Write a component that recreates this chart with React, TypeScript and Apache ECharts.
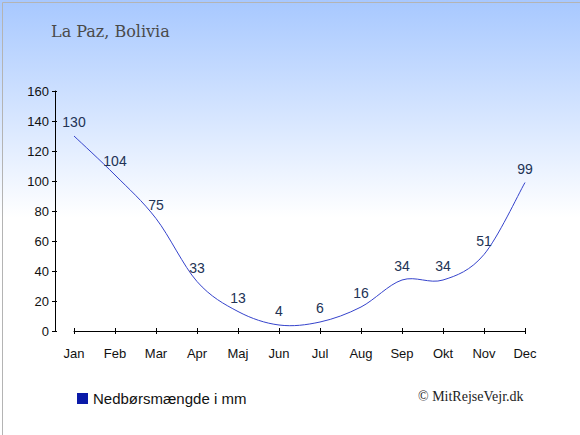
import React, { useEffect, useRef } from "react";
import * as echarts from "echarts";

const months = ["Jan", "Feb", "Mar", "Apr", "Maj", "Jun", "Jul", "Aug", "Sep", "Okt", "Nov", "Dec"];
const precipitation = [130, 104, 75, 33, 13, 4, 6, 16, 34, 34, 51, 99];
const yTicks = [0, 20, 40, 60, 80, 100, 120, 140, 160];

function catmullRomPath(pts: number[][]): string {
  if (pts.length === 0) return "";
  let d = `M${pts[0][0]},${pts[0][1]}`;
  for (let i = 0; i < pts.length - 1; i++) {
    const p0 = pts[i - 1] || pts[i];
    const p1 = pts[i];
    const p2 = pts[i + 1];
    const p3 = pts[i + 2] || p2;
    const t = 6;
    const c1x = p1[0] + (p2[0] - p0[0]) / t;
    const c1y = p1[1] + (p2[1] - p0[1]) / t;
    const c2x = p2[0] - (p3[0] - p1[0]) / t;
    const c2y = p2[1] - (p3[1] - p1[1]) / t;
    d += ` C${c1x},${c1y} ${c2x},${c2y} ${p2[0]},${p2[1]}`;
  }
  return d;
}

export default function App() {
  const ref = useRef<HTMLDivElement>(null);
  useEffect(() => {
    document.body.style.margin = "0";
    const chart = echarts.init(ref.current!, null, { renderer: "svg" });
    const axisCommon = { color: "#000" };
    chart.setOption({
      animation: false,
      backgroundColor: {
        type: "linear", x: 0, y: 0, x2: 0, y2: 1,
        colorStops: [
          { offset: 0, color: "#a7c8ff" },
          { offset: 0.5, color: "#ffffff" },
          { offset: 1, color: "#ffffff" },
        ],
      },
      title: {
        text: "La Paz, Bolivia",
        left: 46, top: 18,
        textStyle: { fontFamily: "DejaVu Serif", fontSize: 16, fontWeight: "normal", color: "#4a4a4a" },
      },
      grid: { left: 74, right: 55, top: 91, bottom: 104 },
      xAxis: [
        {
          type: "category", data: months, boundaryGap: false, position: "bottom", offset: 10,
          axisLine: { lineStyle: { color: "#000", width: 1 } },
          axisTick: { length: 3, lineStyle: axisCommon },
          axisLabel: { color: "#111", fontFamily: "Liberation Sans", fontSize: 13, margin: 6 },
          splitLine: { show: false },
        },
        {
          type: "category", data: months, boundaryGap: false, position: "bottom", offset: 10,
          axisLine: { show: false },
          axisTick: { length: 3, inside: true, lineStyle: axisCommon },
          axisLabel: { show: false },
        },
      ],
      yAxis: [
        {
          type: "value", min: yTicks[0], max: yTicks[yTicks.length - 1], interval: 20, offset: 19,
          axisLine: { show: true, lineStyle: { color: "#000", width: 1 } },
          axisTick: { show: true, length: 3, lineStyle: axisCommon },
          axisLabel: { color: "#111", fontFamily: "Liberation Sans", fontSize: 13, margin: 6 },
          splitLine: { show: false },
        },
        {
          type: "value", min: yTicks[0], max: yTicks[yTicks.length - 1], interval: 20, offset: 19, position: "left",
          axisLine: { show: false },
          axisTick: { show: true, length: 2, inside: true, lineStyle: axisCommon },
          axisLabel: { show: false },
          splitLine: { show: false },
        },
      ],
      legend: {
        left: 72, top: 386, itemWidth: 11, itemHeight: 11, icon: "rect", itemGap: 5,
        textStyle: { fontFamily: "Liberation Sans", fontSize: 15, color: "#111" },
        data: [{ name: "Nedbørsmængde i mm", itemStyle: { color: "#0a1aa8" } }],
      },
      graphic: [
        {
          type: "text", left: 418, top: 389,
          style: { text: "© MitRejseVejr.dk", fontFamily: "Liberation Serif", fontSize: 14, fill: "#222" },
        },
        {
          type: "rect", left: 0, top: 0,
          shape: { x: 0.5, y: 0.5, width: 579, height: 434 },
          style: { fill: "none", stroke: "#b4b4b4", lineWidth: 1 },
        },
      ],
      series: [
        {
          name: "Nedbørsmængde i mm",
          type: "custom",
          data: precipitation,
          color: "#0a1aa8",
          renderItem: (params: any, api: any) => {
            const idx = params.dataIndex;
            const v = precipitation[idx];
            const p = api.coord([idx, v]);
            const children: any[] = [];
            if (idx === 0) {
              const pts = precipitation.map((val, i) => api.coord([i, val]));
              children.push({
                type: "path",
                shape: { pathData: catmullRomPath(pts) },
                style: { fill: "none", stroke: "#3543cc", lineWidth: 1 },
              });
            }
            children.push({
              type: "text",
              style: {
                text: String(v), x: p[0], y: p[1] - 7,
                align: "center", verticalAlign: "bottom",
                fontFamily: "Liberation Sans", fontSize: 14, fill: "#223355",
              },
            });
            return { type: "group", children };
          },
        },
      ],
    });
    return () => chart.dispose();
  }, []);
  return <div ref={ref} style={{ width: 580, height: 435 }} />;
}
